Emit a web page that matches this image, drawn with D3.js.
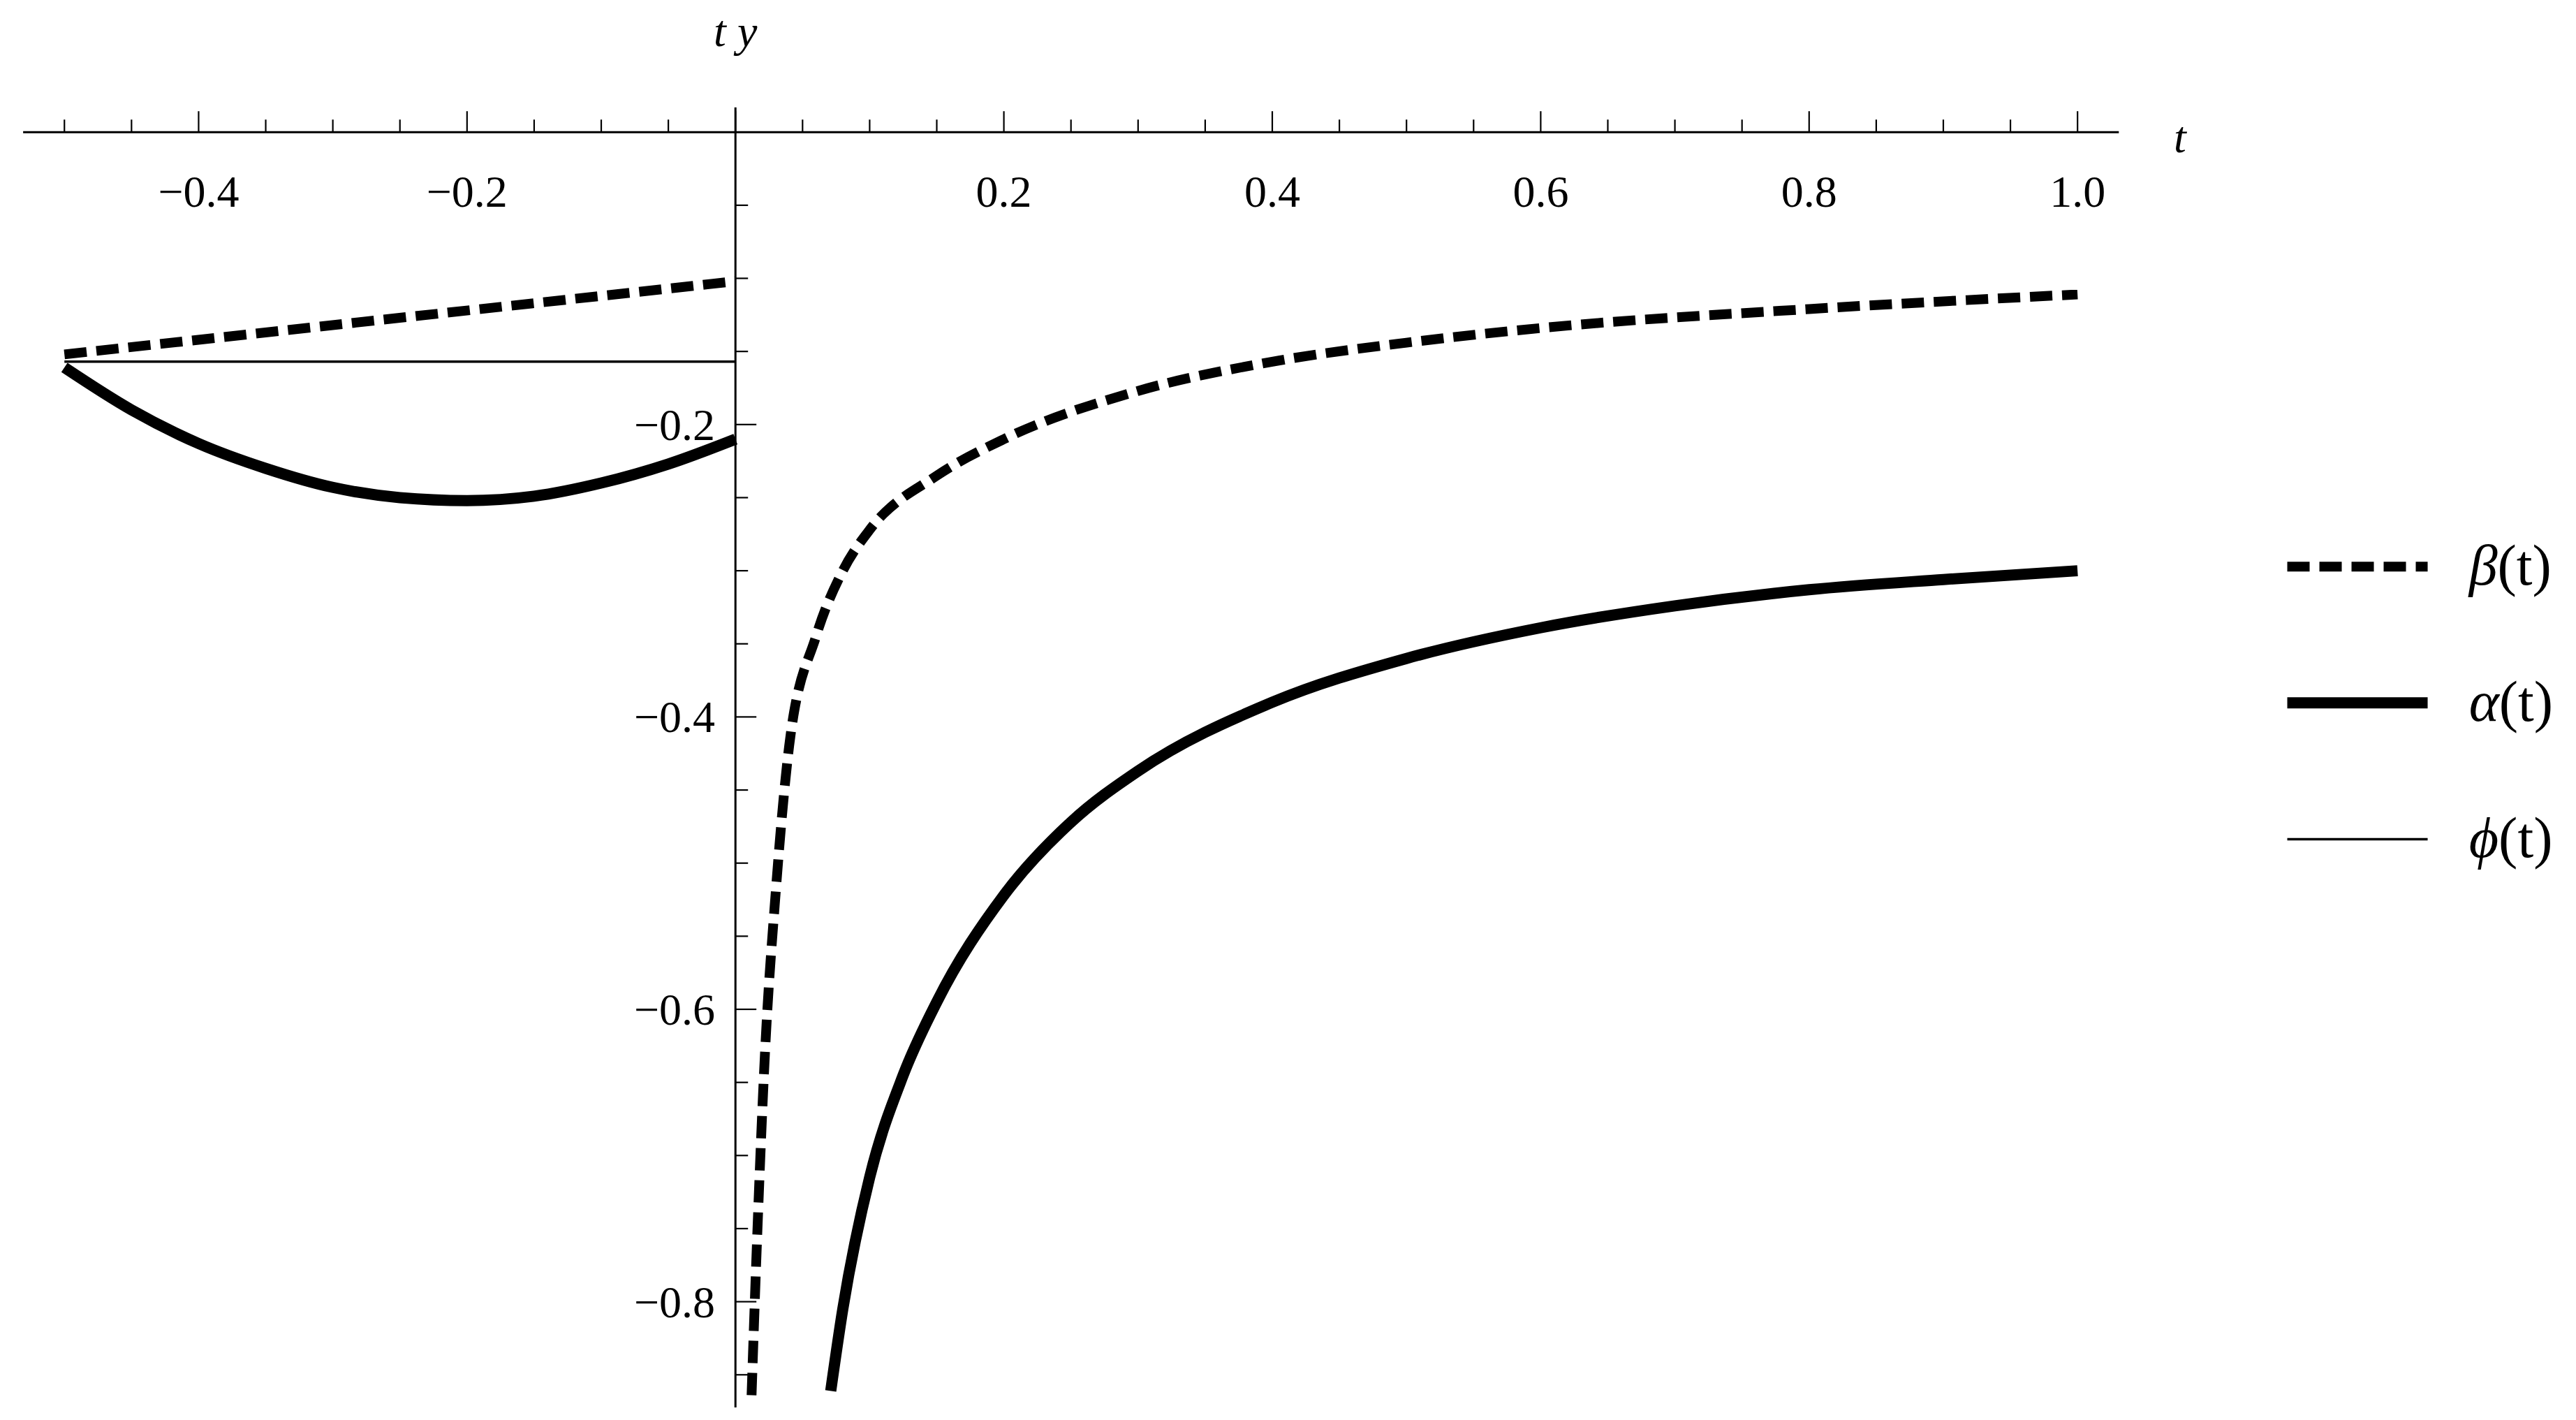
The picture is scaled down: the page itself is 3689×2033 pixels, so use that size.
<!DOCTYPE html>
<html>
<head>
  <meta charset="utf-8" />
  <style>
    body { margin: 0; background: #fff; }
    text { font-family: "Times New Roman", "Liberation Serif", "DejaVu Serif", serif; }
  </style>
</head>
<body>
  <svg id="svg" width="3689" height="2033"></svg>
  <script src="https://cdn.jsdelivr.net/npm/d3@7"></script>
  <script>
    const k = 2.365 // reference was read at ~1/2.365 scale

    // data
    const betaLeft = [[-0.5, -0.152], [0, -0.102]]
    const phiLeft = [[-0.5, -0.157], [0, -0.157]]
    const alphaLeft = [[-0.5, -0.161], [-0.45, -0.19], [-0.4, -0.213], [-0.35, -0.23], [-0.3, -0.243],
      [-0.25, -0.25], [-0.2, -0.252], [-0.15, -0.249], [-0.1, -0.24], [-0.05, -0.227], [0, -0.21]]
    const betaRight = [[0.012, -0.864], [0.016, -0.76], [0.022, -0.63], [0.03, -0.52], [0.04, -0.42],
      [0.06, -0.345], [0.08, -0.3], [0.1, -0.272], [0.15, -0.235], [0.2, -0.21], [0.3, -0.177],
      [0.4, -0.157], [0.5, -0.144], [0.6, -0.134], [0.8, -0.121], [1.0, -0.111]]
    const alphaRight = [[0.071, -0.861], [0.08, -0.805], [0.1, -0.715], [0.125, -0.645], [0.15, -0.595],
      [0.2, -0.522], [0.25, -0.472], [0.3, -0.437], [0.4, -0.39], [0.5, -0.36], [0.6, -0.339],
      [0.7, -0.324], [0.8, -0.313], [0.9, -0.306], [1.0, -0.3]]
    const xTickLabels = [-0.4, -0.2, 0.2, 0.4, 0.6, 0.8, 1.0]
    const yTickLabels = [-0.2, -0.4, -0.6, -0.8]
    const legendItems = [
      { sym: 'β', width: 14, dash: '32,14' },
      { sym: 'α', width: 16, dash: null },
      { sym: 'ϕ', width: 3.5, dash: null }
    ]

    const svg = d3.select('#svg')
    const x = d3.scaleLinear().domain([-0.5, 1]).range([39 * k, 1258 * k])
    const y = d3.scaleLinear().domain([0, -0.8]).range([80 * k, 788 * k])
    const x0 = x(0), y0 = y(0)

    // x axis
    svg.append('line').attr('x1', 14 * k).attr('x2', 1283 * k).attr('y1', y0).attr('y2', y0)
      .attr('stroke', '#000').attr('stroke-width', 3)
    const xMinor = d3.range(-10, 21).map(i => i * 0.05)
    svg.selectAll('.xt').data(xMinor).join('line')
      .attr('x1', d => x(d)).attr('x2', d => x(d))
      .attr('y1', y0).attr('y2', d => y0 - (Math.abs(Math.round(d * 100) % 20) === 0 ? 30 : 18))
      .attr('stroke', '#000').attr('stroke-width', 2.2)
    svg.selectAll('.xl').data(xTickLabels).join('text')
      .attr('x', d => x(d)).attr('y', 125 * k).attr('text-anchor', 'middle')
      .attr('font-size', 64).text(d => (d < 0 ? '\u2212' : '') + Math.abs(d).toFixed(1))
    svg.append('text').attr('x', 1320 * k).attr('y', 92 * k).attr('font-size', 64)
      .attr('font-style', 'italic').attr('text-anchor', 'middle').text('t')

    // y axis
    svg.append('line').attr('x1', x0).attr('x2', x0).attr('y1', 65 * k).attr('y2', 852 * k)
      .attr('stroke', '#000').attr('stroke-width', 3)
    const yMinor = d3.range(1, 18).map(i => -i * 0.05)
    svg.selectAll('.yt').data(yMinor).join('line')
      .attr('x1', x0).attr('x2', d => x0 + (Math.abs(Math.round(d * 100) % 20) === 0 ? 30 : 18))
      .attr('y1', d => y(d)).attr('y2', d => y(d))
      .attr('stroke', '#000').attr('stroke-width', 2.2)
    svg.selectAll('.yl').data(yTickLabels).join('text')
      .attr('x', 433 * k).attr('y', d => y(d) + 22).attr('text-anchor', 'end')
      .attr('font-size', 64).text(d => '\u2212' + Math.abs(d).toFixed(1))
    svg.append('text').attr('x', x0).attr('y', 28 * k).attr('font-size', 64)
      .attr('font-style', 'italic').attr('text-anchor', 'middle').text('t y')

    // curves
    const line = d3.line().x(d => x(d[0])).y(d => y(d[1])).curve(d3.curveMonotoneX)
    function draw(data, w, dash) {
      svg.append('path').attr('d', line(data)).attr('fill', 'none')
        .attr('stroke', '#000').attr('stroke-width', w).attr('stroke-dasharray', dash)
    }
    draw(phiLeft, 3.5, null)
    draw(betaLeft, 14, '32,14')
    draw(alphaLeft, 16, null)
    draw(betaRight, 14, '32,14')
    draw(alphaRight, 16, null)

    // legend
    const lg = svg.selectAll('.lg').data(legendItems).join('g')
      .attr('transform', (d, i) => `translate(${1385 * k},${(343 + i * 82.5) * k})`)
    lg.append('line').attr('x1', 0).attr('x2', 85 * k).attr('y1', 0).attr('y2', 0)
      .attr('stroke', '#000').attr('stroke-width', d => d.width).attr('stroke-dasharray', d => d.dash)
    const tx = lg.append('text').attr('x', 110 * k).attr('y', 26).attr('font-size', 82)
    tx.append('tspan').attr('font-style', 'italic').text(d => d.sym)
    tx.append('tspan').text('(t)')
  </script>
</body>
</html>
